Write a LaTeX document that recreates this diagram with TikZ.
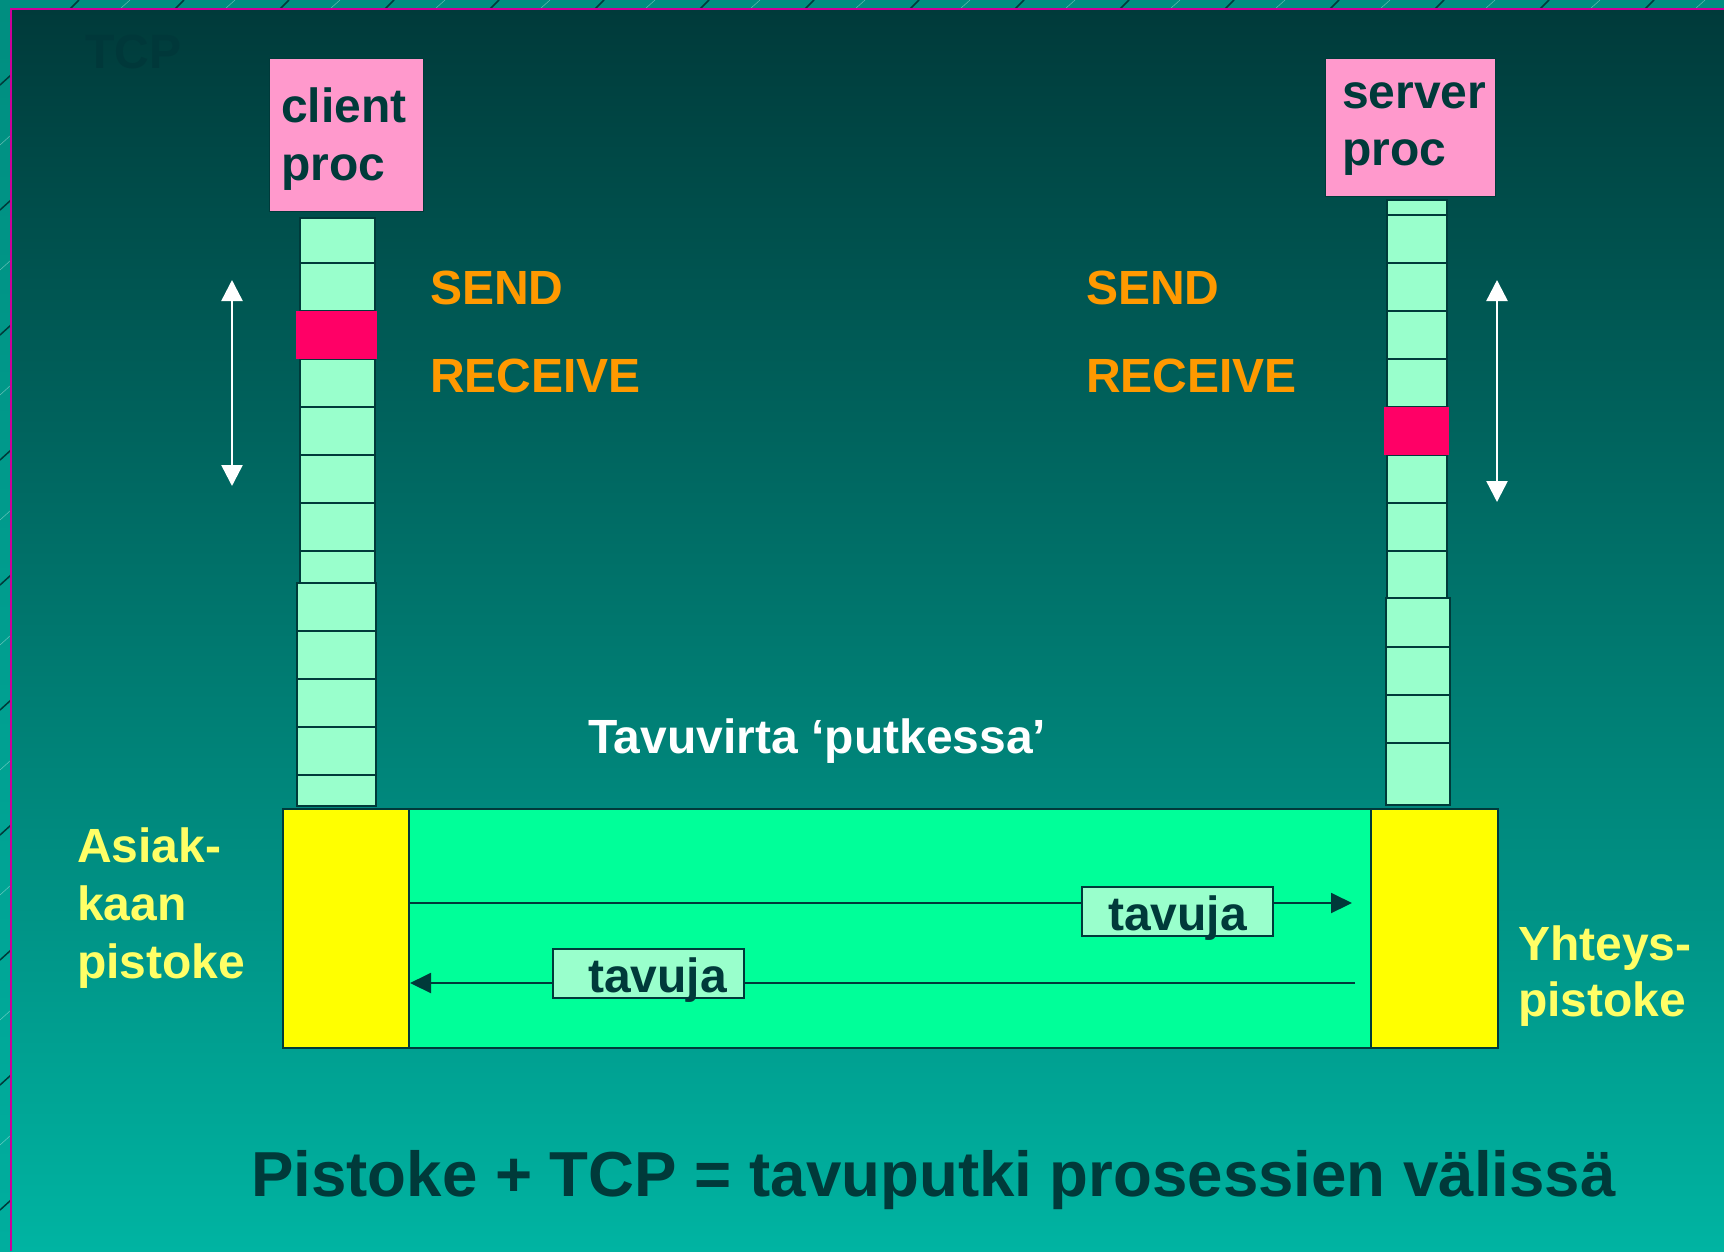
\documentclass[tikz,border=0pt]{standalone}
\usepackage{fontspec}
\setmainfont{Liberation Sans}
\usetikzlibrary{arrows.meta}
\definecolor{dk}{HTML}{003A3A}
\definecolor{bgtop}{HTML}{003A3A}
\definecolor{bgmid}{HTML}{008476}
\definecolor{bgbot}{HTML}{00B4A2}
\definecolor{striptop}{HTML}{008E80}
\definecolor{stripbot}{HTML}{00AE9E}
\definecolor{frame}{HTML}{CC0099}
\definecolor{pinkbox}{HTML}{FF99CC}
\definecolor{cellc}{HTML}{99FFCC}
\definecolor{hot}{HTML}{FF0066}
\definecolor{sockc}{HTML}{FFFF00}
\definecolor{pipec}{HTML}{00FF99}
\definecolor{orangec}{HTML}{FF9900}
\definecolor{yellowtxt}{HTML}{FFFF66}
\definecolor{faint}{HTML}{00383A}
\tikzset{
  txt/.style={anchor=base west, inner sep=0pt, font=\bfseries\fontsize{48}{58}\selectfont},
  proc/.style={fill=pinkbox, draw=dk, line width=1pt, anchor=north west, inner sep=0pt},
  cell/.style={fill=cellc, draw=dk, line width=2pt},
  sock/.style={fill=sockc, draw=dk, line width=2pt, anchor=north west, inner sep=0pt, minimum height=239pt},
  pipebox/.style={fill=pipec, draw=dk, line width=2pt, anchor=north west, inner sep=0pt, minimum height=239pt},
  tav/.style={fill=cellc, draw=dk, line width=2pt, anchor=base, inner sep=0pt, minimum width=191pt,
              text height=43pt, text depth=6pt, text=dk, font=\bfseries\fontsize{48}{58}\selectfont},
  warrow/.style={white, line width=2.5pt, {Triangle[length=21pt,width=21pt]}-{Triangle[length=21pt,width=21pt]}},
  parrow/.style={dk, line width=2pt, -{Triangle[length=21pt,width=20pt]}}
}
\begin{document}
\begin{tikzpicture}[x=1pt,y=-1pt]
\useasboundingbox (0,0) rectangle (1724,1251);
% outer strip
\shade[top color=striptop, bottom color=stripbot] (0,0) rectangle (1724,1251);
\foreach \x in {70,175,...,1724} {
  \draw[dk, line width=1.5pt] (\x,9) -- (\x+9,0);
  \draw[white, opacity=0.4, line width=0.5pt] (\x+50,9) -- (\x+60,0);
}
\foreach \y in {75,200,...,1251} {
  \draw[dk, line width=1.5pt] (0,\y+10) -- (11,\y);
  \draw[white, opacity=0.4, line width=0.5pt] (0,\y+70) -- (11,\y+60);
}
% inner background
\shade[top color=bgtop, middle color=bgmid, bottom color=bgbot] (11,9) rectangle (1724,1251);
\draw[frame, line width=2.5pt] (11,1251) -- (11,9) -- (1724,9);
\node[txt, text=faint] (tcp) at (85,68) {TCP};

% process boxes
\node[proc, minimum width=154pt, minimum height=153pt] (cproc) at (269,58) {};
\node[txt, text=dk] (ctxt1) at (281,122) {client};
\node[txt, text=dk] (ctxt2) at (281,180) {proc};
\node[proc, minimum width=170pt, minimum height=138pt] (sproc) at (1325,58) {};
\node[txt, text=dk] (stxt1) at (1342,108) {server};
\node[txt, text=dk] (stxt2) at (1342,165) {proc};

% client column
\foreach \t/\b in {218/263,263/311,359/407,407/455,455/503,503/551,551/583}
  \draw[cell] (300,\t) rectangle (375,\b);
\foreach \t/\b in {583/631,631/679,679/727,727/775,775/806}
  \draw[cell] (297,\t) rectangle (376,\b);
\fill[hot] (296,311) rectangle (377,359);

% server column
\foreach \t/\b in {200/215,215/263,263/311,311/359,359/407,455/503,503/551,551/598}
  \draw[cell] (1387,\t) rectangle (1447,\b);
\foreach \t/\b in {598/647,647/695,695/743,743/805}
  \draw[cell] (1386,\t) rectangle (1450,\b);
\fill[hot] (1384,407) rectangle (1449,455);

% white arrows
\coordinate (ca1) at (232,280);
\coordinate (ca2) at (232,486);
\draw[warrow] (ca1) -- (ca2);
\coordinate (sa1) at (1497,280);
\coordinate (sa2) at (1497,502);
\draw[warrow] (sa1) -- (sa2);

% SEND / RECEIVE
\node[txt, text=orangec] (send1) at (430,304) {SEND};
\node[txt, text=orangec] (recv1) at (430,392) {RECEIVE};
\node[txt, text=orangec] (send2) at (1086,304) {SEND};
\node[txt, text=orangec] (recv2) at (1086,392) {RECEIVE};

\node[txt, text=white] (tavuvirta) at (588,753) {Tavuvirta ‘putkessa’};

% pipe
\node[pipebox, minimum width=962pt] (pipe) at (408,808) {};
\node[sock, minimum width=126pt] (csock) at (282,808) {};
\node[sock, minimum width=127pt] (ssock) at (1370,808) {};

\coordinate (pu1) at (410,903);
\coordinate (pu2) at (1352,903);
\draw[parrow] (pu1) -- (pu2);
\coordinate (pl1) at (1355,983);
\coordinate (pl2) at (410,983);
\draw[parrow] (pl1) -- (pl2);
\node[tav] (tav1) at (1177.5,930) {tavuja};
\node[tav] (tav2) at (648.5,992) {\hspace*{18pt}tavuja};

% socket labels
\node[txt, text=yellowtxt] (as1) at (77,862) {Asiak-};
\node[txt, text=yellowtxt] (as2) at (77,920) {kaan};
\node[txt, text=yellowtxt] (as3) at (77,978) {pistoke};
\node[txt, text=yellowtxt] (yh1) at (1518,960) {Yhteys-};
\node[txt, text=yellowtxt] (yh2) at (1518,1016) {pistoke};

% title
\node[anchor=base west, inner sep=0pt, text=dk, font=\bfseries\fontsize{63.6}{70}\selectfont] (title) at (251,1196)
  {Pistoke + TCP = tavuputki prosessien välissä};
\end{tikzpicture}
\end{document}
